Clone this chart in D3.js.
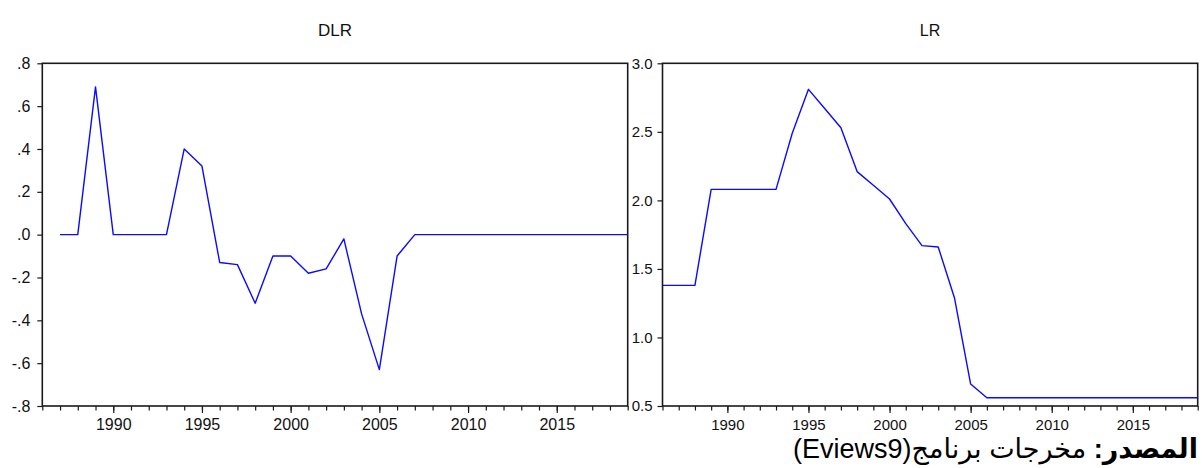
<!DOCTYPE html>
<html>
<head>
<meta charset="utf-8">
<script src="https://cdn.jsdelivr.net/npm/d3@7"></script>
<style>
	html, body { margin: 0; padding: 0; background: #fff; }
	svg { display: block; font-family: "Liberation Sans", Arial, "DejaVu Sans", sans-serif; }
</style>
</head>
<body>
<svg id="chart" width="1202" height="468"></svg>
<script>
'use strict';

// LR (level), 1986..2019
const LR_YEARS = d3.range(1986, 2020);
const LR_VALUES = [
	1.38, 1.38, 1.38, 2.08, 2.08, 2.08, 2.08, 2.08, 2.49, 2.81,
	2.67, 2.53, 2.21, 2.11, 2.01, 1.83, 1.67, 1.66, 1.29, 0.66,
	0.56, 0.56, 0.56, 0.56, 0.56, 0.56, 0.56, 0.56, 0.56, 0.56,
	0.56, 0.56, 0.56, 0.56
];

// DLR (first difference), 1987..2019
const DLR_YEARS = d3.range(1987, 2020);
const DLR_VALUES = [
	0, 0, 0.69, 0, 0, 0, 0, 0.40, 0.32, -0.13,
	-0.14, -0.32, -0.10, -0.10, -0.18, -0.16, -0.02, -0.37, -0.63, -0.10,
	0, 0, 0, 0, 0, 0, 0, 0, 0, 0,
	0, 0, 0
];

const X_TICK_YEARS = [1990, 1995, 2000, 2005, 2010, 2015];
const DLR_Y_TICKS = [-0.8, -0.6, -0.4, -0.2, 0, 0.2, 0.4, 0.6, 0.8];
const DLR_Y_LABELS = ["-.8", "-.6", "-.4", "-.2", ".0", ".2", ".4", ".6", ".8"];
const LR_Y_TICKS = [0.5, 1.0, 1.5, 2.0, 2.5, 3.0];
const LR_Y_LABELS = ["0.5", "1.0", "1.5", "2.0", "2.5", "3.0"];

const LINE_COLOR = "#0a0aff";
const FRAME_COLOR = "#1a1a1a";

const svg = d3.select("#chart");

function draw_panel(opts) {
	const { left, right, top, bottom, years, values, yDomain, yTicks, yLabels, title, font, yPad } = opts;

	const x = d3.scaleLinear().domain([1986, 2019]).range([left, right]);
	const y = d3.scaleLinear().domain(yDomain).range([bottom, top]);

	const g = svg.append("g");

	// title
	g.append("text")
		.attr("x", (left + right) / 2)
		.attr("y", 36)
		.attr("text-anchor", "middle")
		.attr("font-size", opts.titleFont)
		.attr("fill", "#111")
		.text(title);

	// y axis
	const yAxis = d3.axisLeft(y)
		.tickValues(yTicks)
		.tickSize(5)
		.tickPadding(yPad)
		.tickFormat((d, i) => yLabels[i]);
	const gy = g.append("g")
		.attr("transform", `translate(${left},0)`)
		.call(yAxis);
	gy.select(".domain").remove();
	gy.attr("font-family", null);
	gy.selectAll("line").attr("stroke", FRAME_COLOR).attr("stroke-width", 1.2);
	gy.selectAll("text").attr("font-size", font).attr("fill", "#111");

	// x axis, minor ticks every year
	const gxMinor = g.append("g")
		.attr("transform", `translate(0,${bottom})`)
		.call(d3.axisBottom(x).tickValues(d3.range(1986, 2020)).tickSize(4.5).tickFormat(""));
	gxMinor.select(".domain").remove();
	gxMinor.selectAll("line").attr("stroke", FRAME_COLOR).attr("stroke-width", 1.2);

	// x axis, labelled ticks
	const gx = g.append("g")
		.attr("transform", `translate(0,${bottom})`)
		.call(d3.axisBottom(x).tickValues(X_TICK_YEARS).tickSize(7).tickFormat(d3.format("d")));
	gx.select(".domain").remove();
	gx.attr("font-family", null);
	gx.selectAll("line").attr("stroke", FRAME_COLOR).attr("stroke-width", 1.2);
	gx.selectAll("text")
		.attr("dy", null)
		.attr("y", 24)
		.attr("font-size", font)
		.attr("fill", "#111");

	// line
	const line = d3.line()
		.x((d, i) => x(years[i]))
		.y(d => y(d));
	g.append("path")
		.datum(values)
		.attr("fill", "none")
		.attr("stroke", LINE_COLOR)
		.attr("stroke-width", 1.4)
		.attr("stroke-linejoin", "round")
		.attr("d", line);

	// frame
	g.append("rect")
		.attr("x", left)
		.attr("y", top)
		.attr("width", right - left)
		.attr("height", bottom - top)
		.attr("fill", "none")
		.attr("stroke", FRAME_COLOR)
		.attr("stroke-width", 1.6);
}

draw_panel({
	left: 42.3, right: 627.7, top: 63.3, bottom: 406,
	years: DLR_YEARS, values: DLR_VALUES,
	yDomain: [-0.8, 0.8], yTicks: DLR_Y_TICKS, yLabels: DLR_Y_LABELS,
	title: "DLR", titleFont: 17, font: 16, yPad: 7
});

draw_panel({
	left: 662.5, right: 1197.7, top: 63.3, bottom: 406,
	years: LR_YEARS, values: LR_VALUES,
	yDomain: [0.5, 3.0], yTicks: LR_Y_TICKS, yLabels: LR_Y_LABELS,
	title: "LR", titleFont: 16, font: 15, yPad: 5
});

// source note
const note = svg.append("text")
	.attr("x", 1198)
	.attr("y", 458)
	.attr("direction", "rtl")
	.attr("text-anchor", "start")
	.attr("font-size", 27)
	.attr("fill", "#000");
note.append("tspan").attr("font-weight", "bold").text("المصدر:");
note.append("tspan").text(" مخرجات برنامج(Eviews9)");
</script>
</body>
</html>
